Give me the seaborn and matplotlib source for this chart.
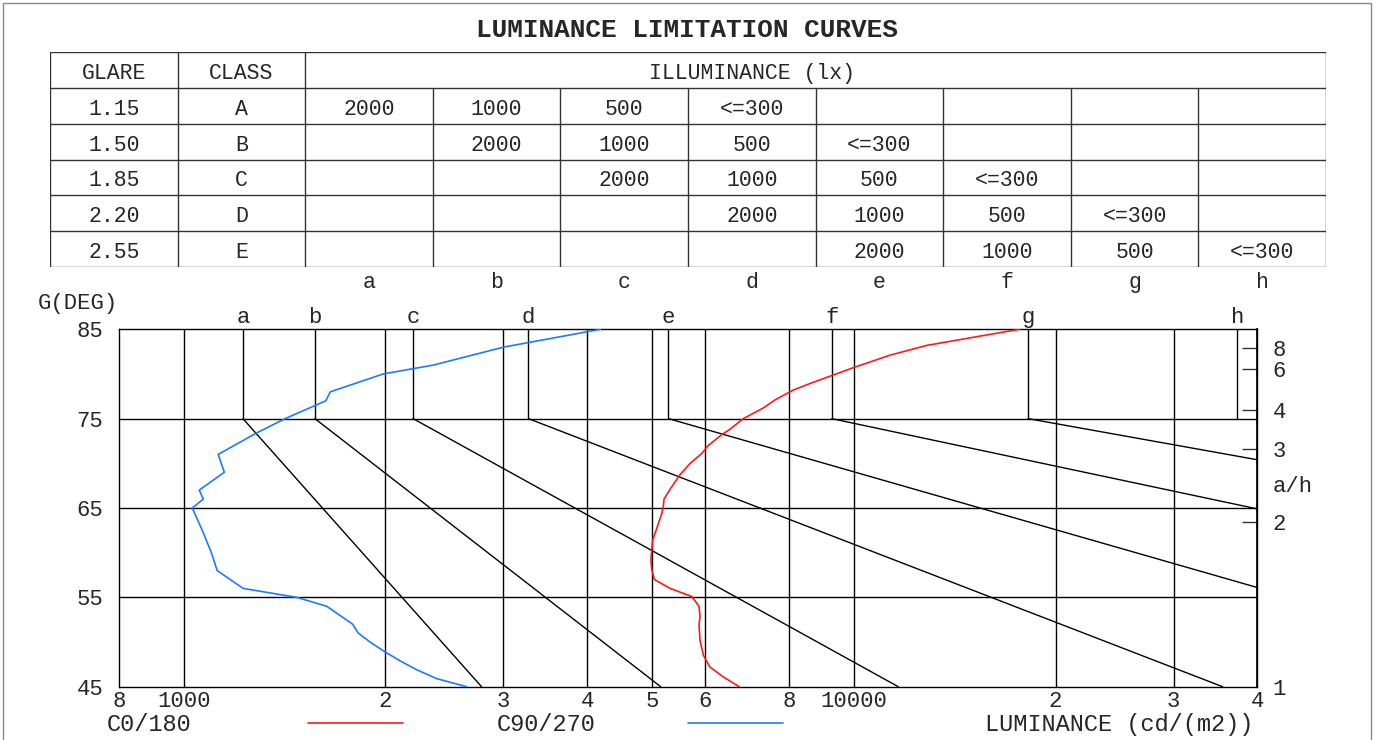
import numpy as np
import pandas as pd
import matplotlib
matplotlib.use("Agg")
import matplotlib.pyplot as plt
import seaborn as sns
from matplotlib.lines import Line2D
from matplotlib.patches import Rectangle
from matplotlib.ticker import NullLocator

# glare table
glare_values = ["1.15", "1.50", "1.85", "2.20", "2.55"]
glare_classes = ["A", "B", "C", "D", "E"]
illuminance_levels = ["2000", "1000", "500", "<=300"]
curve_letters = ["a", "b", "c", "d", "e", "f", "g", "h"]

# limit curves a..h: luminance at the 75 deg knee, and where the sloped part ends
letter_lum = [1226, 1570, 2200, 3270, 5290, 9270, 18200, 37350]
slope_end_lum = [2783, 5150, 11650, 35500, 40000, 40000, 40000, None]
slope_end_deg = [45, 45, 45, 45, 56.1, 64.9, 70.4, None]

# luminaire luminance curves (cd/m2 vs angle)
red_deg = [85, 83.2, 82.1, 80.7, 79, 78.2, 77.1, 76.2, 75, 73.8, 73.2, 72, 71.1, 70,
           68.7, 67.2, 66, 65.2, 64.4, 62.7, 61.4, 59.2, 58.1, 57, 56, 55.1, 54,
           52.8, 51.9, 50.2, 48.5, 47.2, 46.1, 45]
red_lum = [17660, 12850, 11320, 9980, 8650, 8120, 7630, 7330, 6840, 6530, 6350, 6065,
           5930, 5700, 5500, 5330, 5210, 5197, 5170, 5080, 5010, 4980, 4995, 5040,
           5320, 5730, 5875, 5895, 5875, 5895, 5965, 6100, 6385, 6746]
blue_deg = [85, 83, 81, 80, 78, 77, 75, 73.4, 71, 69, 67, 66, 65, 62.5, 60, 58, 56,
            55, 54, 52, 51, 50, 48.9, 47.9, 46.9, 45.9, 45]
blue_lum = [4190, 3000, 2360, 1985, 1655, 1630, 1417, 1285, 1126, 1150, 1055, 1070,
            1030, 1066, 1100, 1122, 1227, 1475, 1635, 1787, 1822, 1897, 1997, 2103,
            2227, 2386, 2645]

x_ticks = [800, 1000, 2000, 3000, 4000, 5000, 6000, 8000, 10000, 20000, 30000, 40000]
x_labels = ["8", "1000", "2", "3", "4", "5", "6", "8", "10000", "2", "3", "4"]
y_ticks = [45, 55, 65, 75, 85]
ratio_ticks = [1, 2, 3, 4, 6, 8]

RED = "#ff1a1a"
BLUE = "#1f7aff"
W, H = 1376, 740

sns.set_theme(style="white")
plt.rcParams["font.family"] = ["Liberation Mono", "DejaVu Sans Mono"]

fig = plt.figure(figsize=(W / 100, H / 100), dpi=100)

# outer frame
fig.add_artist(Rectangle((3 / W, -0.01), 1368 / W, 1 - 3 / H + 0.01,
                         transform=fig.transFigure, fill=False,
                         edgecolor="#888888", lw=1))

fig.text(687 / W, 1 - 30 / H, "LUMINANCE LIMITATION CURVES", ha="center",
         va="center", fontsize=18.8, weight="bold")

# ---- table ----
tb = fig.add_axes([50 / W, 1 - 267 / H, 1276 / W, 215 / H])
tb.set_xlim(0, 10)
tb.set_ylim(6, 0)
tb.axis("off")
lc = "#333333"
for r in range(7):
    tb.plot([0, 10], [r, r], color=lc, lw=1)
for c in [0, 1, 2, 10]:
    tb.plot([c, c], [0, 6], color=lc, lw=1)
for c in range(3, 10):
    tb.plot([c, c], [1, 6], color=lc, lw=1)
fs_tab = 15.5
dy = 0.6  # text sits a little below the row centre
tb.text(0.5, dy, "GLARE", ha="center", va="center", fontsize=fs_tab)
tb.text(1.5, dy, "CLASS", ha="center", va="center", fontsize=fs_tab)
tb.text(5.5, dy, "ILLUMINANCE (lx)", ha="center", va="center", fontsize=fs_tab)
for i, (g, cl) in enumerate(zip(glare_values, glare_classes)):
    tb.text(0.5, i + 1 + dy, g, ha="center", va="center", fontsize=fs_tab)
    tb.text(1.5, i + 1 + dy, cl, ha="center", va="center", fontsize=fs_tab)
    for j, lev in enumerate(illuminance_levels):
        tb.text(2.5 + i + j, i + 1 + dy, lev, ha="center", va="center", fontsize=fs_tab)
for k, let in enumerate(curve_letters):
    tb.text(2.5 + k, 6.42, let, ha="center", va="center", fontsize=fs_tab, clip_on=False)

# ---- chart ----
x0, x1, y_top, y_bot = 118.7, 1257.3, 329.3, 686.7
ax = fig.add_axes([x0 / W, 1 - y_bot / H, (x1 - x0) / W, (y_bot - y_top) / H])
ax.set_xscale("log")
ax.set_xlim(800, 40000)
ax.set_ylim(45, 85)

for x in x_ticks[1:-1]:
    ax.axvline(x, color="black", lw=1, zorder=1)
for y in y_ticks[1:-1]:
    ax.axhline(y, color="black", lw=1, zorder=1)

for lum, end_l, end_d in zip(letter_lum, slope_end_lum, slope_end_deg):
    ax.plot([lum, lum], [75, 85], color="black", lw=1, zorder=2)
    if end_l is not None:
        ax.plot([lum, end_l], [75, end_d], color="black", lw=1, zorder=2)

curves = pd.DataFrame({
    "lum": red_lum + blue_lum,
    "deg": red_deg + blue_deg,
    "plane": ["C0/180"] * len(red_lum) + ["C90/270"] * len(blue_lum),
})
sns.lineplot(data=curves, x="lum", y="deg", hue="plane", sort=False,
             estimator=None, palette={"C0/180": RED, "C90/270": BLUE},
             legend=False, lw=1.2, ax=ax, zorder=3)

ax.set_xlabel("")
ax.set_ylabel("")
ax.xaxis.set_minor_locator(NullLocator())
ax.set_xticks(x_ticks)
ax.set_xticklabels(x_labels)
ax.set_yticks(y_ticks)
ax.tick_params(axis="x", length=0, pad=3, labelsize=16)
ax.tick_params(axis="y", length=0, pad=11, labelsize=16)
for s in ax.spines.values():
    s.set_color("black")
    s.set_linewidth(1)

sec = ax.secondary_yaxis("right", functions=(lambda d: np.tan(np.radians(d)),
                                             lambda r: np.degrees(np.arctan(r))))
sec.set_yticks(ratio_ticks)
sec.set_yticklabels([str(t) for t in ratio_ticks])
sec.tick_params(axis="y", direction="in", length=10.5, width=1, color="#333333",
                pad=11, labelsize=16)
sec.spines["right"].set_color("black")
# no tick mark at a/h = 1 (it sits on the bottom edge)
first = sec.yaxis.get_major_ticks()[0]
first.tick1line.set_visible(False)
first.tick2line.set_visible(False)

blend = ax.get_xaxis_transform()
for lum, let in zip(letter_lum, curve_letters):
    ax.text(lum, 1.019, let, transform=blend, ha="center", va="baseline", fontsize=16)

ax.text(1 + 15 / (x1 - x0), (y_bot - 486) / (y_bot - y_top), "a/h",
        transform=ax.transAxes, ha="left", va="center", fontsize=16)
fig.text(78 / W, 1 - 309 / H, "G(DEG)", ha="center", va="baseline", fontsize=16)

# legend row
fig.text(107 / W, 1 - 731 / H, "C0/180", ha="left", va="baseline", fontsize=17)
fig.text(497 / W, 1 - 731 / H, "C90/270", ha="left", va="baseline", fontsize=17)
fig.text(1253 / W, 1 - 731 / H, "LUMINANCE (cd/(m2))", ha="right", va="baseline",
         fontsize=17)
fig.add_artist(Line2D([308 / W, 403 / W], [1 - 723 / H] * 2, color=RED, lw=1.2,
                      transform=fig.transFigure))
fig.add_artist(Line2D([688 / W, 783 / W], [1 - 723 / H] * 2, color=BLUE, lw=1.2,
                      transform=fig.transFigure))

fig.savefig("out.png", dpi=100)
